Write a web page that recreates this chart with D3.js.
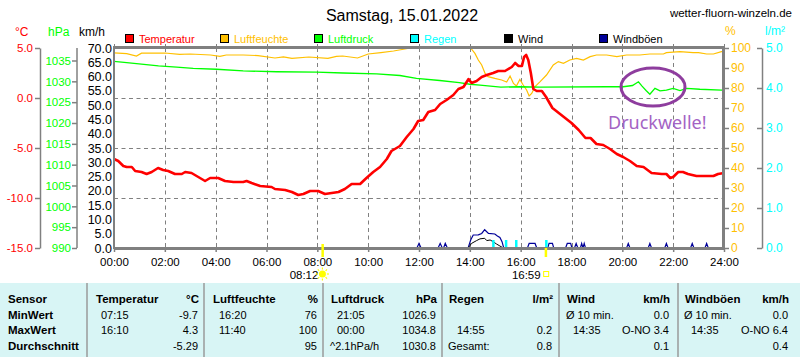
<!DOCTYPE html>
<html><head><meta charset="utf-8">
<script src="https://cdn.jsdelivr.net/npm/d3@7"></script>
<style>
body{margin:0;background:#fff;}
svg{display:block;font-family:"Liberation Sans",Arial,sans-serif;}
</style>
</head><body>
<svg id="chart" width="800" height="357"></svg>
<script>
// ---------------- DATA ----------------
const chartTitle = "Samstag, 15.01.2022";
const siteName = "wetter-fluorn-winzeln.de";
const hourTicks = ["00:00","02:00","04:00","06:00","08:00","10:00","12:00","14:00","16:00","18:00","20:00","22:00","24:00"];
const tempTicks = [-15,-10,-5,0,5];
const hpaTicks = [990,995,1000,1005,1010,1015,1020,1025,1030,1035];
const kmhTicks = [0,5,10,15,20,25,30,35,40,45,50,55,60,65,70];
const pctTicks = [0,10,20,30,40,50,60,70,80,90,100];
const rainTicks = [0,1,2,3,4,5];

const tempTimes = ["0:00","0:10","0:22","0:30","0:42","0:50","1:05","1:17","1:29","1:44","1:56","2:08","2:24","2:40","2:48","3:03","3:15","3:35","3:47","4:06","4:22","4:42","5:05","5:13","5:25","5:45","6:12","6:20","6:44","7:00","7:15","7:27","7:43","8:02","8:18","8:34","8:50","9:05","9:21","9:41","9:56","10:12","10:28","10:44","10:55","11:15","11:31","11:47","11:58","12:10","12:22","12:38","12:50","13:05","13:21","13:33","13:45","13:57","14:04","14:16","14:28","14:40","14:55","15:07","15:23","15:39","15:47","15:55","16:03","16:08","16:13","16:18","16:24","16:30","16:38","16:50","17:00","17:15","17:33","18:00","18:17","18:33","18:45","18:59","19:15","19:31","19:47","20:02","20:18","20:34","20:50","21:09","21:33","21:44","21:53","22:00","22:12","22:23","22:35","22:55","23:15","23:35","23:46","24:00"];
const tempValues = [-6.1,-6.3,-6.8,-6.9,-6.9,-7.3,-7.4,-7.6,-7.4,-7.0,-7.2,-7.3,-7.6,-7.6,-7.4,-7.5,-7.8,-8.3,-8.0,-8.0,-8.3,-8.4,-8.4,-8.3,-8.5,-8.8,-8.9,-9.1,-9.2,-9.4,-9.7,-9.6,-9.3,-9.3,-9.6,-9.5,-9.4,-9.1,-8.6,-8.6,-8.0,-7.4,-6.9,-6.1,-5.3,-4.8,-3.9,-3.1,-2.3,-2.2,-1.4,-1.2,-0.6,-0.2,0.3,0.9,1.1,1.9,1.5,1.7,2.1,2.3,2.5,2.7,2.7,3.1,3.5,3.2,3.2,4.1,4.3,3.8,2.5,0.9,0.7,0.7,0.1,-1.0,-1.6,-2.5,-3.2,-4.0,-4.0,-4.6,-4.7,-5.1,-5.6,-5.9,-6.3,-6.8,-6.9,-7.5,-7.6,-7.6,-8.0,-7.9,-7.4,-7.4,-7.6,-7.8,-7.8,-7.8,-7.6,-7.5];

const humTimes = ["0:00","0:30","0:53","1:05","2:00","2:35","3:00","3:48","4:10","4:25","5:05","5:40","6:20","6:40","7:00","7:40","8:25","8:45","9:00","9:35","10:00","10:30","11:00","11:40","14:02","14:12","14:20","14:28","14:36","14:43","14:59","15:15","15:27","15:35","15:43","15:50","15:58","16:06","16:14","16:20","16:26","16:34","16:46","17:01","17:17","17:29","17:41","17:56","18:12","18:28","18:44","18:59","19:23","19:47","20:10","20:41","21:05","21:37","21:44","22:16","22:47","23:00","23:19","23:35","23:54","24:00"];
const humValues = [97.6,97.2,96,97.4,97.5,96.8,97,96.5,95.8,96.5,96.5,96.2,95,95.6,94.8,95.5,94.8,95.8,96,95,97,97.7,98.5,100,100,97.3,94,91.5,87.3,85.7,84.8,84,83,86,82.3,81,84.3,81.5,79,76,77.3,80.7,83.2,86.5,91.5,93.2,92.3,94,94.8,94,95.7,96.5,96.5,95.7,96.5,96.5,97,97,97.7,98.2,97.7,97.7,97,97,98.2,98.2];

const pressTimes = ["0:00","0:30","1:45","2:28","3:07","4:02","5:05","6:24","7:58","9:01","10:20","11:15","11:54","12:49","13:35","14:00","14:24","15:13","16:00","16:46","19:23","20:02","20:24","20:38","20:46","20:56","21:05","21:17","21:29","21:44","22:00","22:16","22:32","23:03","23:54","24:00"];
const pressValues = [1034.8,1034.5,1033.7,1033.4,1033.1,1032.9,1032.5,1032.3,1032.2,1032.0,1031.8,1031.4,1030.7,1030.2,1029.7,1029.3,1029.1,1028.6,1028.7,1028.6,1028.7,1028.7,1029.0,1029.9,1028.9,1027.8,1026.9,1028.3,1027.7,1027.9,1028.3,1027.8,1028.3,1028.1,1027.9,1027.9];

const windTimes = ["0:00","13:56","14:04","14:16","14:24","14:35","14:40","14:48","14:55","15:03","15:11","15:19","24:00"];
const windValues = [0,0,1.6,2.6,3.2,3.4,2.6,2.8,2.2,1.4,0.7,0,0];

const gustTimes = ["0:00","11:55","12:00","12:05","12:45","12:50","12:55","12:58","13:02","13:07","13:56","14:02","14:08","14:20","14:28","14:35","14:44","14:59","15:05","15:11","15:16","15:20","16:16","16:20","16:34","16:38","17:04","17:07","17:15","17:18","17:46","17:50","17:58","18:01","18:07","18:11","18:15","18:21","18:24","18:27","18:30","18:33","20:10","20:14","20:18","21:01","21:05","21:09","21:40","21:44","21:48","22:41","22:45","22:49","23:15","23:19","23:23","24:00"];
const gustValues = [0,0,1.6,0,0,1.6,0,0,1.6,0,0,2.8,4.55,4.6,5.1,6.4,5.1,4.9,4.2,3.7,2.2,0,0,1.6,1.6,0,0,1.6,1.6,0,0,1.6,1.6,0,0,1.6,0,0,1.6,0,1.6,0,0,1.6,0,0,1.6,0,0,1.6,0,0,1.6,0,0,1.6,0,0];

const rainTimes = ["14:55","15:25","15:49","17:00"];
const rainValues = [0.2,0.2,0.2,0.2];

const sunrise = "08:12";
const sunset = "16:59";

const legendNames = ["Temperatur","Luftfeuchte","Luftdruck","Regen","Wind","Windböen"];
const legendColors = ["#ff0000","#ffc000","#00ff00","#00ffff","#000000","#000099"];
const legendTextColors = ["#ff0000","#ffc000","#00ff00","#00ffff","#000000","#000000"];

const tableHeaders = [["Sensor",""],["Temperatur","°C"],["Luftfeuchte","%"],["Luftdruck","hPa"],["Regen","l/m²"],["Wind","km/h"],["Windböen","km/h"]];
const tableRowNames = ["MinWert","MaxWert","Durchschnitt"];
const tableTimes = [["07:15","16:10",""],["16:20","11:40",""],["21:05","00:00","^2.1hPa/h"],["","14:55","Gesamt:"],["Ø 10 min.","14:35",""],["Ø 10 min.","14:35",""]];
const tableValues = [["-9.7","4.3","-5.29"],["76","100","95"],["1026.9","1034.8","1030.8"],["","0.2","0.8"],["0.0","O-NO 3.4","0.1"],["0.0","O-NO 6.4","0.4"]];

// ---------------- DRAW ----------------
const svg = d3.select("#chart");
const toH = s => { const [h,m] = s.split(":").map(Number); return h + m/60; };
const L = 114, R = 724, T = 48, B = 248;
const gray = "#808080";

const x = d3.scaleLinear().domain([0,24]).range([L,R]);
const yKmh = d3.scaleLinear().domain([0,70]).range([B,T]);
const yTemp = d3.scaleLinear().domain([-15,5]).range([B,T]);
const yHpa = d3.scaleLinear().domain([990,1038]).range([B,T]);
const yPct = d3.scaleLinear().domain([0,100]).range([B,T]);
const yRain = d3.scaleLinear().domain([0,5]).range([B,T]);

// title
svg.append("text").attr("x",402).attr("y",21).attr("text-anchor","middle")
  .attr("font-size",16).text(chartTitle);
svg.append("text").attr("x",792).attr("y",17).attr("text-anchor","end")
  .attr("font-size",11.5).text(siteName);

// axis titles
const titles = [["°C",15,36,"#ff0000"],["hPa",48,36,"#00ff00"],["km/h",79,36,"#000"],["%",725,35,"#ffc000"],["l/m²",765,35,"#00ffff"]];
titles.forEach(t=>svg.append("text").attr("x",t[1]).attr("y",t[2]).attr("fill",t[3]).attr("font-size",12).text(t[0]));

// legend
const legX = [125,220,314,410,504,599];
legendNames.forEach((n,i)=>{
  svg.append("rect").attr("x",legX[i]+0.5).attr("y",34.5).attr("width",8).attr("height",8)
    .attr("fill",legendColors[i]).attr("stroke","#000").attr("stroke-width",1);
  svg.append("text").attr("x",legX[i]+14).attr("y",43).attr("font-size",11).attr("fill",legendTextColors[i]).text(n);
});

// grid
const grid = svg.append("g").attr("stroke",gray).attr("stroke-dasharray","4,3.5").attr("stroke-width",1);
hourTicks.slice(1,-1).forEach(h=>{
  const xx = Math.round(x(toH(h)))+0.5;
  grid.append("line").attr("x1",xx).attr("x2",xx).attr("y1",T).attr("y2",B);
});
[0,-5,-10].forEach(t=>{
  const yy = Math.round(yTemp(t))+0.5;
  grid.append("line").attr("x1",L).attr("x2",R).attr("y1",yy).attr("y2",yy);
});

// series
const mk = (times, vals) => times.map((t,i)=>[toH(t), vals[i]]);
const lineOf = ys => d3.line().x(d=>x(d[0])).y(d=>ys(d[1]));

svg.append("path").datum(mk(humTimes,humValues)).attr("d",lineOf(yPct))
  .attr("fill","none").attr("stroke","#ffc000").attr("stroke-width",1.2);
svg.append("path").datum(mk(pressTimes,pressValues)).attr("d",lineOf(yHpa))
  .attr("fill","none").attr("stroke","#00ff00").attr("stroke-width",1.3);
svg.append("path").datum(mk(gustTimes,gustValues)).attr("d",lineOf(yKmh))
  .attr("fill","none").attr("stroke","#000099").attr("stroke-width",1.2);
svg.append("path").datum(mk(windTimes,windValues)).attr("d",lineOf(yKmh))
  .attr("fill","none").attr("stroke","#000").attr("stroke-width",1);
svg.selectAll(".rain").data(mk(rainTimes,rainValues)).enter().append("rect")
  .attr("x",d=>x(d[0])-1).attr("width",2.5).attr("y",d=>yRain(d[1])).attr("height",d=>B-yRain(d[1]))
  .attr("fill","#00ffff");
svg.append("path").datum(mk(tempTimes,tempValues)).attr("d",lineOf(yTemp))
  .attr("fill","none").attr("stroke","#ff0000").attr("stroke-width",2.6).attr("stroke-linejoin","round");

// frame
const fr = svg.append("g").attr("stroke",gray);
fr.append("line").attr("x1",L-1).attr("x2",R+1).attr("y1",T-0.5).attr("y2",T-0.5).attr("stroke-width",3);
fr.append("line").attr("x1",L).attr("x2",L).attr("y1",T-2).attr("y2",B+1).attr("stroke-width",2);
fr.append("line").attr("x1",R-0.5).attr("x2",R-0.5).attr("y1",T-2).attr("y2",B+2).attr("stroke-width",3);
hourTicks.forEach(h=>{
  const xx = Math.round(x(toH(h)))+0.5;
  fr.append("line").attr("x1",xx).attr("x2",xx).attr("y1",T-4).attr("y2",T).attr("stroke-width",1);
});

function styleAxis(g, color, fs){
  g.select(".domain").attr("stroke",gray).attr("stroke-width",1.5);
  g.selectAll(".tick line").attr("stroke",gray).attr("stroke-width",1.5);
  g.selectAll(".tick text").attr("fill",color).attr("font-size",fs).attr("font-family","Liberation Sans, Arial, sans-serif");
}
const f1 = d=>d.toFixed(1);

const gT = svg.append("g").attr("transform","translate(40,0)")
  .call(d3.axisLeft(yTemp).tickValues(tempTicks).tickFormat(f1).tickSize(5).tickSizeOuter(0).tickPadding(2));
styleAxis(gT,"#ff0000",11.5);
const gH = svg.append("g").attr("transform","translate(77,0)")
  .call(d3.axisLeft(yHpa).tickValues(hpaTicks).tickFormat(d=>String(d)).tickSize(5).tickSizeOuter(0).tickPadding(1));
gH.select(".domain").attr("d",`M0,${T}V${B}`);
styleAxis(gH,"#00ff00",11.5);
const gK = svg.append("g").attr("transform",`translate(${L},0)`)
  .call(d3.axisLeft(yKmh).tickValues(kmhTicks).tickFormat(f1).tickSize(0).tickPadding(2));
gK.select(".domain").remove();
styleAxis(gK,"#000",12.5);
const gP = svg.append("g").attr("transform",`translate(${R},0)`)
  .call(d3.axisRight(yPct).tickValues(pctTicks).tickFormat(d=>String(d)).tickSize(5).tickSizeOuter(0).tickPadding(2));
gP.select(".domain").remove();
styleAxis(gP,"#ffc000",12);
const gR = svg.append("g").attr("transform","translate(762,0)")
  .call(d3.axisRight(yRain).tickValues(rainTicks).tickFormat(f1).tickSizeInner(-5).tickSizeOuter(0).tickPadding(4));
styleAxis(gR,"#00ffff",12);

const gX = svg.append("g").attr("transform",`translate(0,${B})`)
  .call(d3.axisBottom(x).tickValues(hourTicks.map(toH)).tickFormat((d,i)=>hourTicks[i]).tickSize(4).tickSizeOuter(0).tickPadding(5.5));
gX.select(".domain").attr("stroke",gray).attr("stroke-width",3);
gX.selectAll(".tick line").attr("stroke",gray).attr("stroke-width",1.5);
gX.selectAll(".tick text").attr("fill","#000").attr("font-size",11.5);

// sunrise / sunset
const sr = x(toH(sunrise)), ss = x(toH(sunset));
svg.append("rect").attr("x",sr-1).attr("y",244).attr("width",2.5).attr("height",13).attr("fill","#ffff00");
svg.append("rect").attr("x",ss-1).attr("y",248).attr("width",2.5).attr("height",9).attr("fill","#ffff00");
svg.append("text").attr("x",sr-4).attr("y",279).attr("text-anchor","end").attr("font-size",11.5).text(sunrise);
svg.append("text").attr("x",ss-5).attr("y",279).attr("text-anchor","end").attr("font-size",11.5).text(sunset);
const sun = svg.append("g").attr("transform",`translate(${sr},274)`);
sun.append("circle").attr("r",3.5).attr("fill","#ffff00");
d3.range(8).forEach(i=>{
  const a = i*Math.PI/4;
  sun.append("line").attr("x1",Math.cos(a)*4.5).attr("y1",Math.sin(a)*4.5).attr("x2",Math.cos(a)*6.5).attr("y2",Math.sin(a)*6.5)
    .attr("stroke","#ffff00").attr("stroke-width",1.2);
});
svg.append("rect").attr("x",ss-2).attr("y",271.5).attr("width",5).attr("height",5).attr("fill","none").attr("stroke","#ffff00").attr("stroke-width",1);

// annotation
svg.append("ellipse").attr("cx",653).attr("cy",87).attr("rx",32).attr("ry",19)
  .attr("fill","none").attr("stroke","#8e3d9e").attr("stroke-width",3);
svg.append("text").attr("x",608).attr("y",129).attr("font-family","Noto Sans, sans-serif").attr("font-size",18)
  .attr("fill","#a463c4").text("Druckwelle!");

// table
const tbl = svg.append("g");
tbl.append("rect").attr("x",0).attr("y",283).attr("width",800).attr("height",74).attr("fill","#d8f5f5");
const colSep = [87,204,323,442,559,678];
colSep.forEach(cx=>tbl.append("line").attr("x1",cx).attr("x2",cx).attr("y1",283).attr("y2",357).attr("stroke","#9a9a9a").attr("stroke-width",1.5));
const rowY = [303,319,334,350];
const colLeft = [8,96,213,331,449,567,685];
const colRight = [0,199,318,437,553,670,789];
const timeX = [0,101,219,337,457,573,691];
tableHeaders.forEach((h,i)=>{
  tbl.append("text").attr("x",colLeft[i]).attr("y",rowY[0]).attr("font-weight","bold").attr("font-size",11.5).text(h[0]);
  if(h[1]) tbl.append("text").attr("x",colRight[i]).attr("y",rowY[0]).attr("text-anchor","end").attr("font-weight","bold").attr("font-size",11.5).text(h[1]);
});
tableRowNames.forEach((n,r)=>tbl.append("text").attr("x",8).attr("y",rowY[r+1]).attr("font-weight","bold").attr("font-size",11.5).text(n));
tableTimes.forEach((col,c)=>{
  col.forEach((t,r)=>{
    if(!t) return;
    let xx = timeX[c+1];
    if(t.startsWith("^")||t.startsWith("Gesamt")||t.startsWith("Ø")) xx = colLeft[c+1]-1;
    tbl.append("text").attr("x",xx).attr("y",rowY[r+1]).attr("font-size",11).text(t);
  });
});
tableValues.forEach((col,c)=>{
  col.forEach((v,r)=>{
    if(!v) return;
    tbl.append("text").attr("x",colRight[c+1]-1).attr("y",rowY[r+1]).attr("text-anchor","end").attr("font-size",11).text(v);
  });
});
</script>
</body></html>
